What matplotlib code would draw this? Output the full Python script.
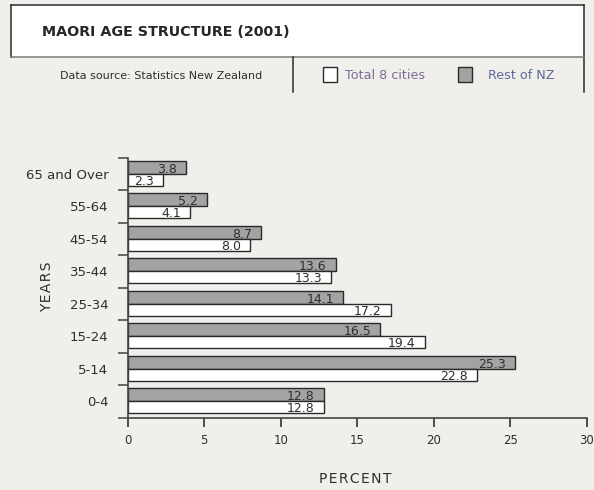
import matplotlib.pyplot as plt
from matplotlib.patches import Rectangle
from matplotlib.lines import Line2D

# age groups, bottom to top
groups = ["0-4", "5-14", "15-24", "25-34", "35-44", "45-54", "55-64", "65 and Over"]
rest_nz = [12.8, 25.3, 16.5, 14.1, 13.6, 8.7, 5.2, 3.8]
cities = [12.8, 22.8, 19.4, 17.2, 13.3, 8.0, 4.1, 2.3]
xticks = [0, 5, 10, 15, 20, 25, 30]

bg = "#f0efeb"
dark = "#2a2a2a"
txt = "#2e2e2e"
grey = "#a3a3a3"

plt.rcParams["font.family"] = ["DejaVu Sans"]

fig = plt.figure(figsize=(5.94, 4.90), dpi=100)
fig.patch.set_facecolor(bg)

W, H = 594, 490


def fx(px):
    return px / W


def fy(py):
    return 1 - py / H


# --- header box ---
fig.patches.append(Rectangle((fx(10.5), fy(57.5)), fx(584.3) - fx(10.5), fy(5.3) - fy(57.5),
                             transform=fig.transFigure, facecolor="white", edgecolor="none"))
for (x0, y0, x1, y1, c) in [
    (10.5, 5.3, 584.3, 5.3, dark),
    (10.5, 5.3, 10.5, 57.5, dark),
    (584.3, 5.3, 584.3, 92, dark),
    (10.5, 57.5, 584.3, 57.5, "#7a7a7a"),
    (292.8, 57.5, 292.8, 92, dark),
]:
    fig.lines.append(Line2D([fx(x0), fx(x1)], [fy(y0), fy(y1)], transform=fig.transFigure,
                            color=c, lw=1.1))

fig.text(fx(42), fy(32.5), "MAORI AGE STRUCTURE (2001)", fontsize=10.3, fontweight="bold",
         color="#262626", ha="left", va="center")
fig.text(fx(161.5), fy(76), "Data source: Statistics New Zealand", fontsize=8, color=txt,
         ha="center", va="center")

# legend
fig.patches.append(Rectangle((fx(323), fy(82)), fx(337) - fx(323), fy(67.5) - fy(82),
                             transform=fig.transFigure, facecolor="white", edgecolor=dark, lw=1))
fig.text(fx(345), fy(75.5), "Total 8 cities", fontsize=9.2, color="#7a6c98", ha="left", va="center")
fig.patches.append(Rectangle((fx(458), fy(82)), fx(472) - fx(458), fy(67.5) - fy(82),
                             transform=fig.transFigure, facecolor=grey, edgecolor=dark, lw=1))
fig.text(fx(488), fy(75.5), "Rest of NZ", fontsize=9.2, color="#5a6a9e", ha="left", va="center")

# --- chart ---
ax = fig.add_axes([fx(127.7), fy(417.7), fx(586.7) - fx(127.7), fy(157.7) - fy(417.7)])
ax.set_facecolor(bg)

pos = list(range(len(groups)))
ax.barh([p + 0.01 for p in pos], rest_nz, height=0.40, align="edge",
        color=grey, edgecolor=dark, linewidth=1)
ax.barh([p - 0.37 for p in pos], cities, height=0.38, align="edge",
        color="white", edgecolor=dark, linewidth=1)

for p, v in zip(pos, rest_nz):
    ax.annotate(f"{v:.1f}", xy=(v, p + 0.01), xytext=(-6.5, 0.8), textcoords="offset points",
                ha="right", va="baseline", fontsize=9, color=txt)
for p, v in zip(pos, cities):
    ax.annotate(f"{v:.1f}", xy=(v, p - 0.37), xytext=(-6.5, 0.8), textcoords="offset points",
                ha="right", va="baseline", fontsize=9, color=txt)

ax.set_xlim(0, 30)
ax.set_ylim(-0.5, len(groups) - 0.5)
ax.set_xticks(xticks)
ax.set_xticklabels([str(t) for t in xticks], fontsize=8.5, color=txt)
ax.set_yticks(pos)
ax.set_yticklabels(groups, fontsize=9.5, color=txt)
ax.set_yticks([p - 0.5 for p in pos] + [len(groups) - 0.5], minor=True)

ax.tick_params(axis="y", which="major", length=0, pad=14)
ax.tick_params(axis="y", which="minor", length=7.2, width=1.1, color="#444444", direction="out")
ax.tick_params(axis="x", length=6.5, width=1.1, color="#222222", pad=5)

for s in ["top", "right"]:
    ax.spines[s].set_visible(False)
for s in ["left", "bottom"]:
    ax.spines[s].set_color("#444444")
    ax.spines[s].set_linewidth(1.2)

hs = "\u200a"
fig.text(fx(47), fy(287), hs.join("YEARS"), rotation=90, fontsize=10, color=txt,
         ha="center", va="center")
fig.text(fx(355), fy(479), hs.join("PERCENT"), fontsize=10, color=txt,
         ha="center", va="center")

fig.savefig("out.png", dpi=100, facecolor=bg)
